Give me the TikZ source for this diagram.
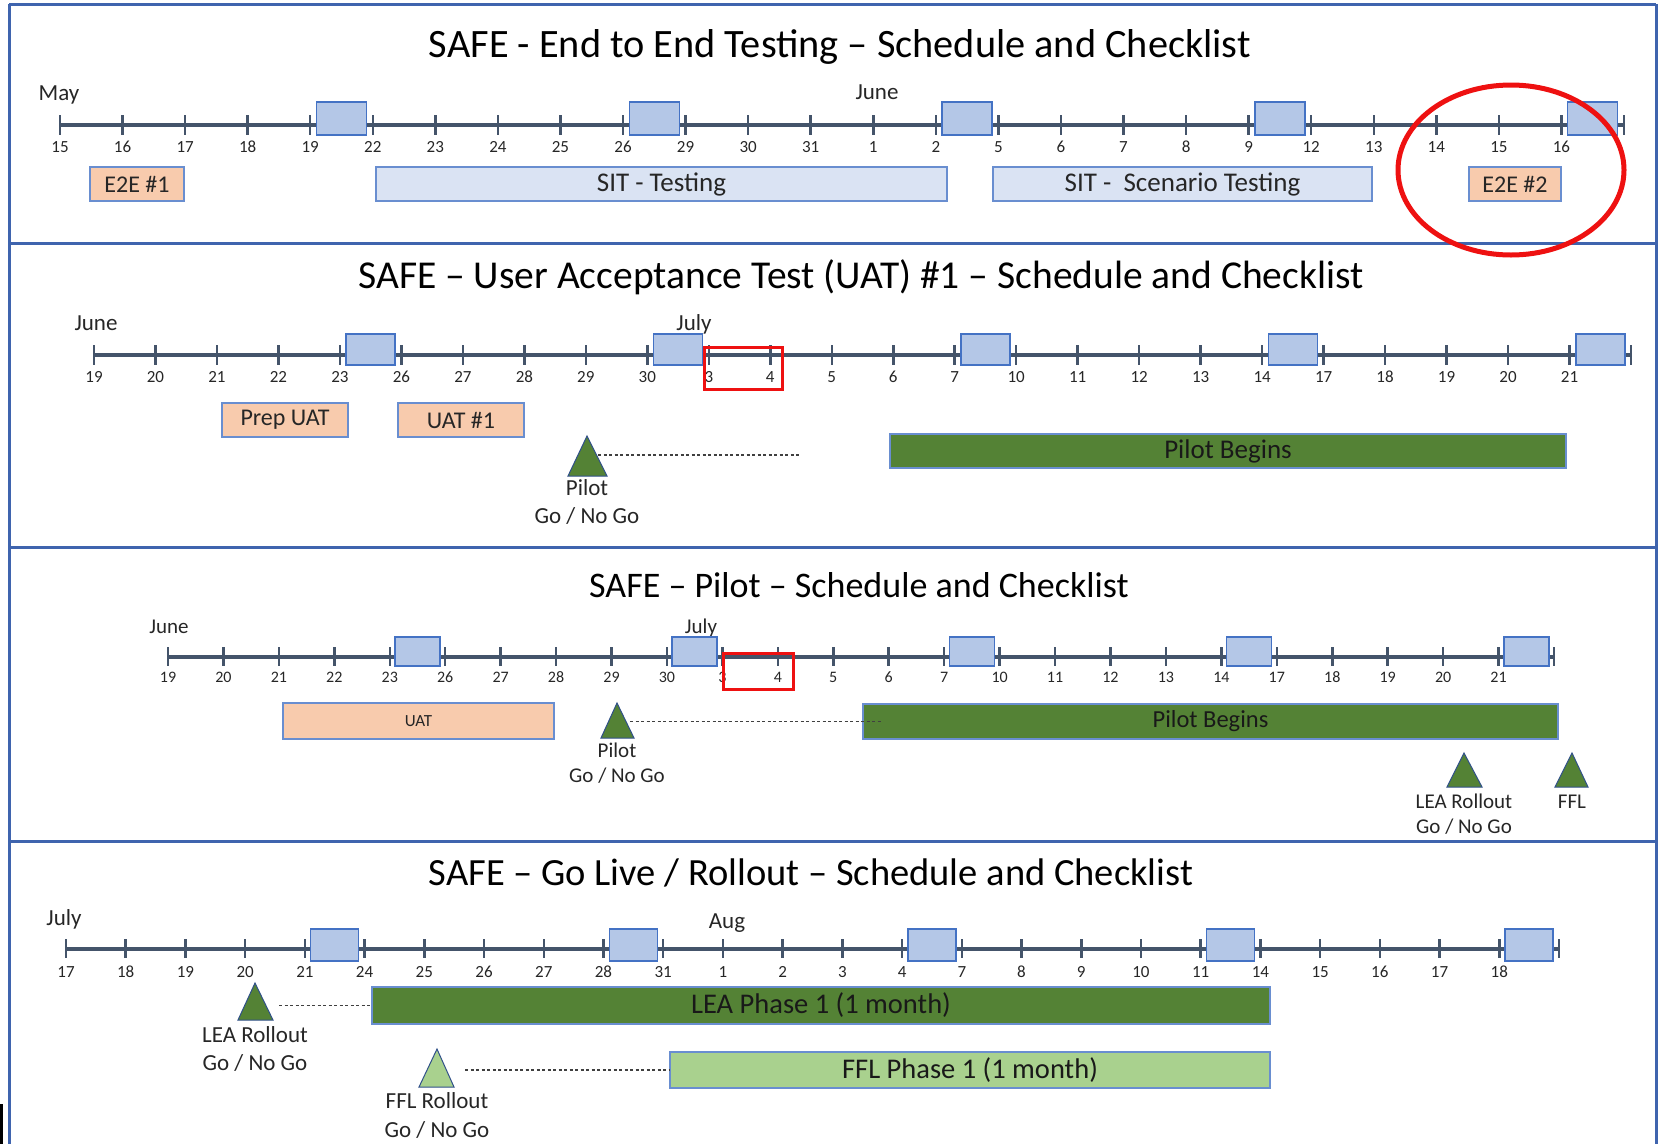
\documentclass[tikz,border=0pt]{standalone}
\usepackage{fontspec}
\setmainfont{Carlito}
\definecolor{frameblue}{HTML}{3F64AE}
\definecolor{axisgray}{HTML}{44546A}
\definecolor{wkfill}{HTML}{B4C7E7}
\definecolor{wkline}{HTML}{4472C4}
\definecolor{peach}{HTML}{F8CBAD}
\definecolor{sitfill}{HTML}{DAE3F3}
\definecolor{dkgreen}{HTML}{548235}
\definecolor{ltgreen}{HTML}{A9D18E}
\definecolor{markred}{HTML}{EE1111}
\definecolor{txt}{HTML}{262626}

\begin{document}
\begin{tikzpicture}[x=1pt,y=-1pt,
	frameline/.style={frameblue,line width=3pt},
	axisline/.style={axisgray,line width=4pt},
	tickmark/.style={axisgray,line width=2.5pt},
	wkend/.style={draw=wkline,fill=wkfill,line width=1.5pt,inner sep=0pt},
	daynum/.style={text=txt,inner sep=0pt,font=\fontsize{17}{20}\selectfont},
	month/.style={text=txt,anchor=base,inner sep=0pt,font=\fontsize{23}{28}\selectfont},
	heading/.style={text=black,anchor=base,inner sep=0pt},
	taskbar/.style={draw=wkline!80,line width=1.2pt,inner sep=0pt,text=txt},
	e2e/.style={taskbar,fill=peach,font=\fontsize{24}{28}\selectfont},
	sit/.style={taskbar,fill=sitfill,font=\fontsize{27}{32}\selectfont},
	golive/.style={taskbar,fill=dkgreen,text=black!90},
	ffl/.style={taskbar,fill=ltgreen,text=black!90},
	milestone/.style={draw=wkline!70!black,line width=1pt},
	gonogo/.style={text=txt,anchor=base,align=center,inner sep=0pt},
	dotline/.style={black!75,line width=1.5pt,dash pattern=on 3pt off 2.5pt},
	redmark/.style={markred,line width=3pt}]
	\useasboundingbox (0,0) rectangle (1662,1144);
	% frame
	\draw[frameline] (9,4) -- (1656,4);
	\draw[frameline] (9,243) -- (1656,243);
	\draw[frameline] (9,547) -- (1656,547);
	\draw[frameline] (9,841) -- (1656,841);
	\draw[frameline] (9,4) -- (9,1144);
	\draw[frameline] (1656,4) -- (1656,1144);
	\draw[black,line width=3pt] (1.5,1104) -- (1.5,1144);

	% panel 1: end to end testing
	\node[heading,font=\fontsize{40.3}{48}\selectfont] (ttl1) at (840,57) {SAFE - End to End Testing – Schedule and Checklist};
	\node[month] (may1) at (59,100) {May};
	\node[month] (jun1) at (877,99) {June};
	\draw[axisline] (60,125) -- (1624,125);
	\foreach \lab [count=\i from 0] in {15,16,17,18,19,22,23,24,25,26,29,30,31,1,2,5,6,7,8,9,12,13,14,15,16,{}} {
		\draw[tickmark] (60+\i*62.56,115) -- (60+\i*62.56,135);
		\node[daynum] (a\i) at (60+\i*62.56,147) {\lab};
	}
	\foreach \k in {0,...,4}
		\node[wkend,minimum width=50,minimum height=33] (aw\k) at (341.5+\k*312.8,118.5) {};
	\node[e2e,minimum width=94,minimum height=34] (e2e1) at (137,184) {E2E \#1};
	\node[sit,minimum width=571,minimum height=34] (sit1) at (661.5,184) {SIT - Testing};
	\node[sit,minimum width=379,minimum height=34] (sit2) at (1182.5,184) {SIT - \ Scenario Testing};
	\node[e2e,minimum width=92,minimum height=34] (e2e2) at (1515,184) {E2E \#2};

	% panel 2: user acceptance test
	\node[heading,font=\fontsize{39.5}{47}\selectfont] (ttl2) at (861,288) {SAFE – User Acceptance Test (UAT) \#1 – Schedule and Checklist};
	\node[month] (jun2) at (96,330) {June};
	\node[month] (jul2) at (694,330) {July};
	\draw[axisline] (94,355) -- (1631,355);
	\foreach \lab [count=\i from 0] in {19,20,21,22,23,26,27,28,29,30,3,4,5,6,7,10,11,12,13,14,17,18,19,20,21,{}} {
		\draw[tickmark] (94+\i*61.48,345) -- (94+\i*61.48,365);
		\node[daynum] (b\i) at (94+\i*61.48,377) {\lab};
	}
	\foreach \k in {0,...,4}
		\node[wkend,minimum width=49,minimum height=31] (bw\k) at (370.7+\k*307.4,349.5) {};
	\draw[redmark] (704,347) rectangle (782,389);
	\node[e2e,minimum width=126,minimum height=34] (prep) at (285,420) {Prep UAT};
	\node[e2e,minimum width=126,minimum height=34] (uat1) at (461,420) {UAT \#1};
	\node[golive,font=\fontsize{27}{32}\selectfont,minimum width=676,minimum height=34] (pilot2) at (1228,451) {Pilot Begins};
	\draw[milestone,fill=dkgreen] (568,476) -- (587,436) -- (607,476) -- cycle;
	\coordinate (tri2) at (598,455);
	\coordinate (dot2) at (800,455);
	\draw[dotline] (tri2) -- (dot2);
	\node[gonogo,font=\fontsize{23}{28}\selectfont] (go2) at (587,523) {Pilot\\Go / No Go};

	% panel 3: pilot
	\node[heading,font=\fontsize{36}{43}\selectfont] (ttl3) at (859,597) {SAFE – Pilot – Schedule and Checklist};
	\node[month,font=\fontsize{21}{25}\selectfont] (jun3) at (169,633) {June};
	\node[month,font=\fontsize{21}{25}\selectfont] (jul3) at (701,633) {July};
	\draw[axisline] (168,657) -- (1554,657);
	\foreach \lab [count=\i from 0] in {19,20,21,22,23,26,27,28,29,30,3,4,5,6,7,10,11,12,13,14,17,18,19,20,21,{}} {
		\draw[tickmark] (168+\i*55.44,647) -- (168+\i*55.44,666);
		\node[daynum,font=\fontsize{16}{19}\selectfont] (c\i) at (168+\i*55.44,677) {\lab};
	}
	\foreach \k in {0,...,4}
		\node[wkend,minimum width=45,minimum height=29] (cw\k) at (417.5+\k*277.2,651.5) {};
	\draw[redmark] (723,653) rectangle (793,689);
	\node[e2e,font=\fontsize{17}{20}\selectfont,minimum width=271,minimum height=36] (uat3) at (418.5,721) {UAT};
	\node[golive,font=\fontsize{24.5}{29}\selectfont,minimum width=695,minimum height=35] (pilot3) at (1210.5,721.5) {Pilot Begins};
	\draw[milestone,fill=dkgreen] (601,738) -- (617,703) -- (634,738) -- cycle;
	\coordinate (tri3) at (630,721.5);
	\draw[dotline] (tri3) -- ([xshift=19pt]pilot3.west);
	\node[gonogo,font=\fontsize{21}{25}\selectfont] (go3) at (617,782) {Pilot\\Go / No Go};
	\draw[milestone,fill=dkgreen] (1447,787) -- (1464,753) -- (1482,787) -- cycle;
	\node[gonogo,font=\fontsize{21}{25}\selectfont] (lea3) at (1464,833) {LEA Rollout\\Go / No Go};
	\draw[milestone,fill=dkgreen] (1555,787) -- (1572,753) -- (1588,787) -- cycle;
	\node[gonogo,font=\fontsize{21}{25}\selectfont] (ffl3) at (1572,808) {FFL};

	% panel 4: go live / rollout
	\node[heading,font=\fontsize{38.5}{46}\selectfont] (ttl4) at (811,885) {SAFE – Go Live / Rollout – Schedule and Checklist};
	\node[month] (jul4) at (64,925) {July};
	\node[month] (aug4) at (727,928) {Aug};
	\draw[axisline] (66,949) -- (1559,949);
	\foreach \lab [count=\i from 0] in {17,18,19,20,21,24,25,26,27,28,31,1,2,3,4,7,8,9,10,11,14,15,16,17,18,{}} {
		\draw[tickmark] (66+\i*59.72,939) -- (66+\i*59.72,958);
		\node[daynum] (d\i) at (66+\i*59.72,972) {\lab};
	}
	\foreach \k in {0,...,4}
		\node[wkend,minimum width=48,minimum height=32] (dw\k) at (334.7+\k*298.6,945) {};
	\node[golive,font=\fontsize{28.5}{34}\selectfont,minimum width=898,minimum height=37] (lea4) at (821,1005.5) {LEA Phase 1 (1 month)};
	\node[ffl,font=\fontsize{28.5}{34}\selectfont,minimum width=600,minimum height=36] (ffl4) at (970,1070) {FFL Phase 1 (1 month)};
	\draw[milestone,fill=dkgreen] (238,1020) -- (255,983) -- (273,1020) -- cycle;
	\coordinate (tri4a) at (279,1005.5);
	\draw[dotline] (tri4a) -- (lea4.west);
	\node[gonogo,font=\fontsize{23}{28}\selectfont] (lea4go) at (255,1070) {LEA Rollout\\Go / No Go};
	\draw[milestone,fill=ltgreen] (419,1087) -- (437,1049) -- (454,1087) -- cycle;
	\coordinate (tri4b) at (465,1070);
	\draw[dotline] (tri4b) -- (ffl4.west);
	\node[gonogo,font=\fontsize{23}{29}\selectfont] (ffl4go) at (437,1137) {FFL Rollout\\Go / No Go};

	% highlight
	\draw[markred,line width=5pt] (1511,170) ellipse [x radius=113pt,y radius=85pt];
\end{tikzpicture}
\end{document}
